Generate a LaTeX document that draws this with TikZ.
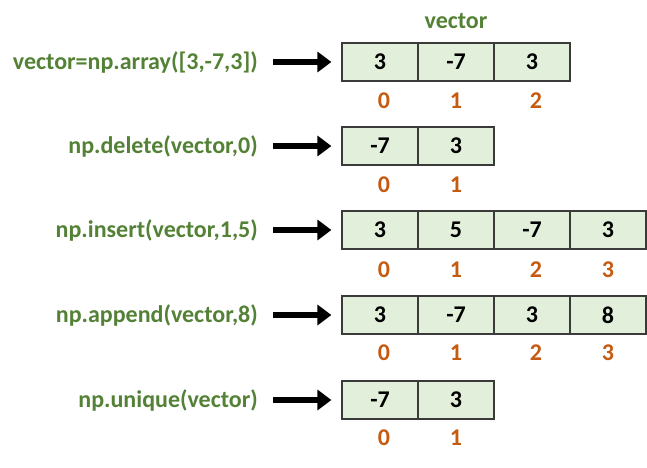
\documentclass[tikz,border=0pt]{standalone}
\usepackage{fontspec}
\setmainfont{Carlito}
\usetikzlibrary{arrows.meta}
\definecolor{codegreen}{HTML}{538135}
\definecolor{idxorange}{HTML}{C55A11}
\definecolor{cellfill}{HTML}{E2EFDA}
\definecolor{cellborder}{HTML}{3A3A3A}
\tikzset{
  code/.style={anchor=east, inner sep=0pt, text=codegreen, font=\fontsize{24}{26}\selectfont\bfseries},
  cell/.style={draw=cellborder, line width=1.2pt, fill=cellfill, minimum width=76pt, minimum height=38pt, inner sep=0pt, font=\fontsize{24}{26}\selectfont\bfseries},
  idx/.style={inner sep=0pt, text=idxorange, font=\fontsize{24}{26}\selectfont\bfseries},
  title/.style={inner sep=0pt, text=codegreen, font=\fontsize{24}{26}\selectfont\bfseries},
  bigarrow/.style={line width=6pt, -{Triangle[length=14pt,width=20pt]}, shorten <=15pt, shorten >=10pt}
}
\begin{document}
\begin{tikzpicture}[x=1pt,y=-1pt]
\useasboundingbox (0,0) rectangle (647,467);
\node[title] (ttl) at (456,21) {vector};
% row 1
\node[code] (l1) at (258,62) {vector=np.array([3,-7,3])};
\node[cell] (r1c1) at (380,62) {3};
\node[cell] (r1c2) at (456,62) {-7};
\node[cell] (r1c3) at (532,62) {3};
\node[idx] (i1a) at (384,101) {0};
\node[idx] (i1b) at (456,101) {1};
\node[idx] (i1c) at (536,101) {2};
\draw[bigarrow] (l1.east) -- (r1c1.west);
% row 2
\node[code] (l2) at (258,146) {np.delete(vector,0)};
\node[cell] (r2c1) at (380,146) {-7};
\node[cell] (r2c2) at (456,146) {3};
\node[idx] (i2a) at (384,185) {0};
\node[idx] (i2b) at (456,185) {1};
\draw[bigarrow] (l2.east) -- (r2c1.west);
% row 3
\node[code] (l3) at (258,230) {np.insert(vector,1,5)};
\node[cell] (r3c1) at (380,230) {3};
\node[cell] (r3c2) at (456,230) {5};
\node[cell] (r3c3) at (532,230) {-7};
\node[cell] (r3c4) at (608,230) {3};
\node[idx] (i3a) at (384,270) {0};
\node[idx] (i3b) at (456,270) {1};
\node[idx] (i3c) at (536,270) {2};
\node[idx] (i3d) at (608,270) {3};
\draw[bigarrow] (l3.east) -- (r3c1.west);
% row 4
\node[code] (l4) at (258,315) {np.append(vector,8)};
\node[cell] (r4c1) at (380,315) {3};
\node[cell] (r4c2) at (456,315) {-7};
\node[cell] (r4c3) at (532,315) {3};
\node[cell] (r4c4) at (608,315) {8};
\node[idx] (i4a) at (384,353) {0};
\node[idx] (i4b) at (456,353) {1};
\node[idx] (i4c) at (536,353) {2};
\node[idx] (i4d) at (608,353) {3};
\draw[bigarrow] (l4.east) -- (r4c1.west);
% row 5
\node[code] (l5) at (258,400) {np.unique(vector)};
\node[cell] (r5c1) at (380,400) {-7};
\node[cell] (r5c2) at (456,400) {3};
\node[idx] (i5a) at (384,438) {0};
\node[idx] (i5b) at (456,438) {1};
\draw[bigarrow] (l5.east) -- (r5c1.west);
\end{tikzpicture}
\end{document}
